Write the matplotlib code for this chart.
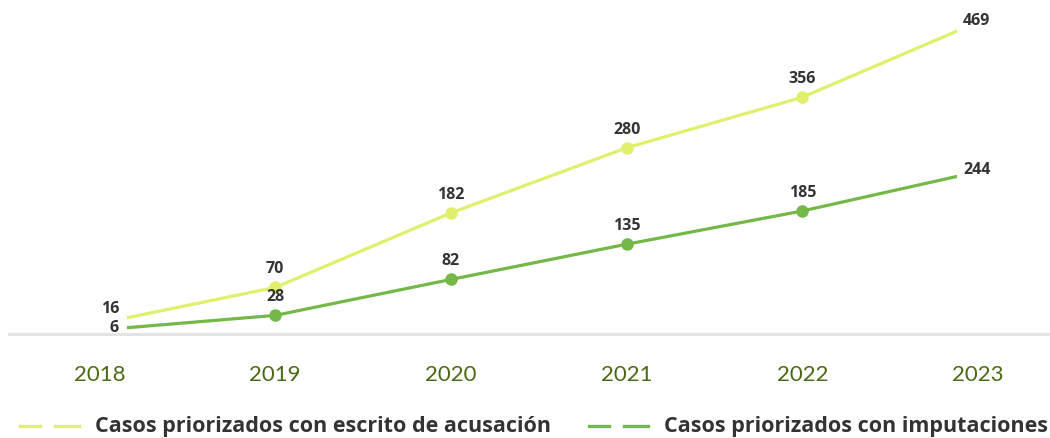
import matplotlib
matplotlib.use("Agg")
import matplotlib.pyplot as plt
from matplotlib.patches import Rectangle
from matplotlib.lines import Line2D

# Data
years = ["2018", "2019", "2020", "2021", "2022", "2023"]
acusacion = [16, 70, 182, 280, 356, 469]
imputaciones = [6, 28, 82, 135, 185, 244]
series_names = ["Casos priorizados con escrito de acusación",
                "Casos priorizados con imputaciones"]

# Style
C_ACUS = "#e0ef6c"
C_IMPU = "#74b848"
C_TICK = "#4b6a14"
C_LABEL = "#333333"
C_BASE = "#e4e4e4"
plt.rcParams["font.family"] = ["Lato", "DejaVu Sans"]
BOLD_FAMILY = ["Open Sans", "DejaVu Sans"]

W, H = 1050, 438
fig = plt.figure(figsize=(W / 100, H / 100), dpi=100)
fig.patch.set_facecolor("white")

# axes spans full width; bottom edge sits on the zero baseline
base_px = 334
ax = fig.add_axes([0, (H - base_px) / H, 1, base_px / H])
px_per_unit = 0.665
x_step = 175.7
x0_px = 99.5
ax.set_xlim(-x0_px / x_step, (W - x0_px) / x_step)
ax.set_ylim(0, base_px / px_per_unit)
for s in ax.spines.values():
    s.set_visible(False)
ax.set_yticks([])

xs = list(range(len(years)))
ax.set_xticks(xs)
ax.set_xticklabels(years, fontsize=16, color=C_TICK)
ax.tick_params(axis="x", length=0, pad=22)

# zero baseline
ax.axhline(0, xmin=9 / W, xmax=1, color=C_BASE, lw=2.2, clip_on=False, zorder=1)

# visible drawing window between the first and last category
clip_left = (127 - x0_px) / x_step
clip_right = (957 - x0_px) / x_step
clip_rect = Rectangle((clip_left, -10), clip_right - clip_left, 1000,
                      transform=ax.transData, fill=False, visible=False)
ax.add_patch(clip_rect)

for vals, col in [(acusacion, C_ACUS), (imputaciones, C_IMPU)]:
    ln, = ax.plot(xs, vals, color=col, lw=2.3, marker="o", markersize=8,
                  markevery=[1, 2, 3, 4], solid_capstyle="butt", zorder=3)
    ln.set_clip_path(clip_rect)

pt = 0.72  # points per pixel
lab_kw = dict(fontsize=11.5, fontweight="bold", color=C_LABEL, family=BOLD_FAMILY,
              textcoords="offset points", va="center", zorder=4)

for vals in (acusacion, imputaciones):
    for i in range(1, len(years) - 1):
        ax.annotate(str(vals[i]), (xs[i], vals[i]), xytext=(0, 18 * pt),
                    ha="center", **lab_kw)

# end labels beside the clipped line ends
ax.annotate(str(acusacion[0]), (xs[0], acusacion[0]), xytext=(19.5 * pt, 14 * pt),
            ha="right", **lab_kw)
ax.annotate(str(imputaciones[0]), (xs[0], imputaciones[0]), xytext=(19.5 * pt, 2 * pt),
            ha="right", **lab_kw)
ax.annotate(str(acusacion[-1]), (xs[-1], acusacion[-1]), xytext=(-15 * pt, 1 * pt),
            ha="left", **lab_kw)
ax.annotate(str(imputaciones[-1]), (xs[-1], imputaciones[-1]), xytext=(-15 * pt, 2 * pt),
            ha="left", **lab_kw)

# legend at the bottom
leg_y = 1 - 426 / H
for (x_start, x_text), name, col in zip([(20, 95), (589, 664)], series_names,
                                        [C_ACUS, C_IMPU]):
    for a, b in [(x_start, x_start + 20), (x_start + 35, x_start + 59)]:
        fig.add_artist(Line2D([a / W, b / W], [leg_y, leg_y], color=col, lw=2.4,
                              transform=fig.transFigure))
    fig.text(x_text / W, 1 - 432 / H, name, fontsize=15.5, fontweight="bold",
             family=BOLD_FAMILY, color=C_LABEL, va="baseline", ha="left")

fig.savefig("out.png", dpi=100, facecolor="white")
